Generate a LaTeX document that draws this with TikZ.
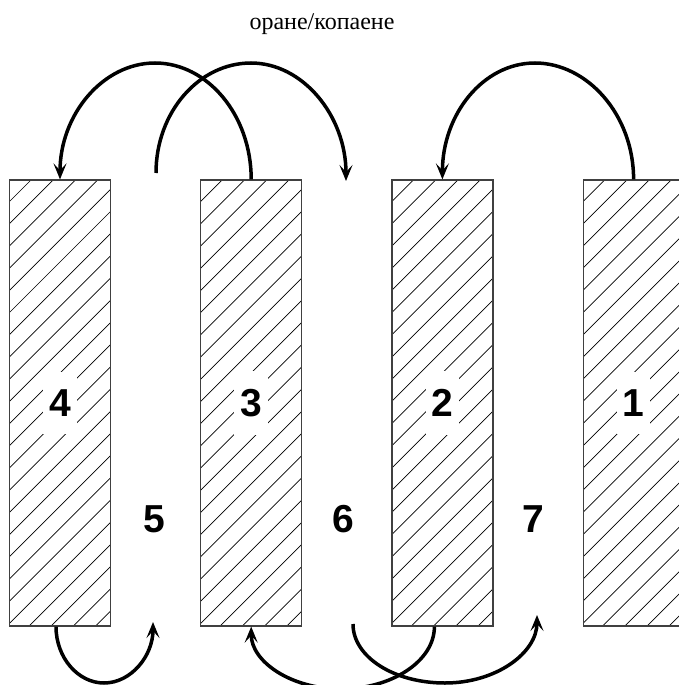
\documentclass[tikz,border=0pt]{standalone}
\usepackage{fontspec}
\setmainfont{Liberation Serif}
\newfontfamily\numfont{Liberation Sans}
\usetikzlibrary{positioning,arrows.meta}

\begin{document}
\begin{tikzpicture}[
        x=1pt, y=-1pt,
        node distance=89pt,
        hatch/.style={line width=0.7pt, draw=black},
        bar/.style={rectangle, draw=black!75, line width=1.2pt, minimum width=101pt, minimum height=446pt, inner sep=0pt,
            path picture={\foreach \k in {-21,...,5} \draw[hatch] ([xshift=\k*22.2pt-2.7pt]path picture bounding box.south west) -- ++(520,-520);}},
        num/.style={font=\numfont\bfseries\fontsize{39}{39}\selectfont, inner sep=0pt},
        numbox/.style={num, fill=white, inner xsep=6pt, inner ysep=18pt},
        arrow/.style={-{Stealth[length=16pt, width=13pt, inset=7pt]}, line width=3.5pt}
    ]
    \useasboundingbox (0,0) rectangle (678,685);

    \node[font=\fontsize{24}{24}\selectfont, anchor=base] (title) at (322,30) {оране/копаене};

    % strips
    \node[bar] (r4) at (60,403) {};
    \node[bar, right=of r4] (r3) {};
    \node[bar, right=of r3] (r2) {};
    \node[bar, right=of r2] (r1) {};

    \node[numbox] (n4) at (r4) {4};
    \node[numbox] (n3) at (r3) {3};
    \node[numbox] (n2) at (r2) {2};
    \node[numbox] (n1) at (r1) {1};
    \node[num] (n5) at (154,519) {5};
    \node[num] (n6) at (343,519) {6};
    \node[num] (n7) at (533,519) {7};

    % free ends and turning points
    \coordinate (s5) at (156,173);
    \coordinate (e6) at (346,181);
    \coordinate (e5) at (153,622);
    \coordinate (s6) at (353,624);
    \coordinate (e7) at (537,615);
    \coordinate (pa) at (155,63);
    \coordinate (pb) at (251,63);
    \coordinate (pc) at (535,63);
    \coordinate (pd) at (104,683);
    \coordinate (pe) at (341,689);
    \coordinate (pf) at (445,683);

    \draw[arrow] (r3.north) .. controls +(0,-65) and +(52,0) .. (pa) .. controls +(-52,0) and +(0,-65) .. (r4.north);
    \draw[arrow] (s5) .. controls +(0,-61) and +(-52,0) .. (pb) .. controls +(52,0) and +(0,-65) .. (e6);
    \draw[arrow] (r1.north) .. controls +(0,-65) and +(52,0) .. (pc) .. controls +(-52,0) and +(0,-65) .. (r2.north);
    \draw[arrow] ([xshift=-4pt]r4.south) .. controls +(0,31) and +(-26,0) .. (pd) .. controls +(27,0) and +(0,34) .. (e5);
    \draw[arrow] ([xshift=-8pt]r2.south) .. controls +(0,35) and +(50,0) .. (pe) .. controls +(-50,0) and +(0,35) .. (r3.south);
    \draw[arrow] (s6) .. controls +(0,33) and +(-51,0) .. (pf) .. controls +(51,0) and +(0,38) .. (e7);
\end{tikzpicture}
\end{document}
